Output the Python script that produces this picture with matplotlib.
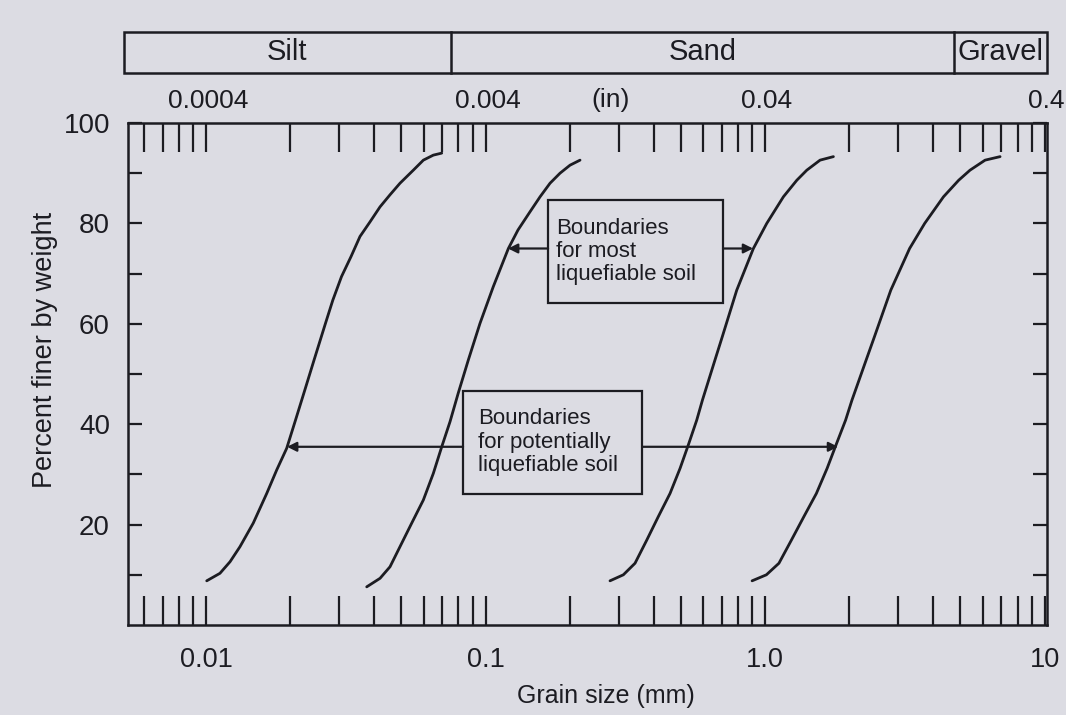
import numpy as np
import matplotlib
matplotlib.use("Agg")
import matplotlib.pyplot as plt
from matplotlib.patches import Rectangle
from matplotlib.transforms import blended_transform_factory
from matplotlib.ticker import FixedLocator, LogLocator, NullFormatter, NullLocator

plt.rcParams['font.family'] = ['Liberation Sans', 'DejaVu Sans']

# Grain size distribution boundaries (grain size in mm, percent finer by weight)
size_1 = [0.01006, 0.01122, 0.01219, 0.01323, 0.01476, 0.01649, 0.01791, 0.01944, 0.02090,
          0.02257, 0.02436, 0.02676, 0.02842, 0.03053, 0.03303, 0.03556, 0.03861, 0.04194,
          0.04553, 0.04943, 0.05516, 0.05992, 0.06505, 0.06971]
pct_1 = [8.8, 10.3, 12.6, 15.6, 20.3, 26.2, 30.9, 35.2, 40.8, 46.8, 52.8, 60.1, 64.7, 69.4,
         73.4, 77.4, 80.3, 83.3, 85.7, 88.0, 90.6, 92.6, 93.6, 94.0]

size_2 = [0.03758, 0.04194, 0.04553, 0.04943, 0.05445, 0.05992, 0.06505, 0.06971, 0.07464,
          0.07988, 0.08680, 0.09556, 0.1066, 0.1207, 0.1307, 0.1442, 0.1567, 0.1701, 0.1847,
          0.2006, 0.2178]
pct_2 = [7.6, 9.3, 11.6, 15.6, 20.3, 24.9, 30.2, 35.5, 40.5, 46.2, 52.8, 60.1, 67.4, 75.0,
         78.7, 82.3, 85.3, 88.0, 90.0, 91.6, 92.6]

size_3 = [0.2788, 0.3112, 0.3426, 0.3773, 0.4151, 0.4571, 0.4965, 0.5317, 0.5695, 0.5970,
          0.6620, 0.7028, 0.7919, 0.9082, 1.014, 1.163, 1.299, 1.410, 1.573, 1.756]
pct_3 = [8.8, 10.0, 12.3, 16.9, 21.6, 26.2, 31.2, 35.9, 40.8, 44.8, 52.8, 57.4, 66.7, 75.0,
         80.0, 85.3, 88.6, 90.6, 92.6, 93.3]

size_4 = [0.8986, 1.011, 1.121, 1.242, 1.377, 1.526, 1.667, 1.795, 1.941, 2.046, 2.300, 2.461,
          2.817, 3.289, 3.724, 4.348, 4.928, 5.409, 6.125, 6.930]
pct_4 = [8.8, 10.0, 12.3, 16.9, 21.6, 26.2, 31.2, 35.9, 40.8, 44.8, 52.8, 57.4, 66.7, 75.0,
         80.0, 85.3, 88.6, 90.6, 92.6, 93.3]

# soil classes on top band (mm)
band_names = ['Silt', 'Sand', 'Gravel']
band_edges = [0.0051, 0.075, 4.75, 10.2]

mm_ticks = [0.01, 0.1, 1.0, 10]
mm_labels = ['0.01', '0.1', '1.0', '10']
inch_ticks = [0.0004, 0.004, 0.04, 0.4]
inch_labels = ['0.0004', '0.004', '0.04', '0.4']
pct_ticks = [20, 40, 60, 80, 100]
pct_minor = [10, 30, 50, 70, 90]

most_text = 'Boundaries\nfor most\nliquefiable soil'
pot_text = 'Boundaries\nfor potentially\nliquefiable soil'

INK = '#1c1c22'
BG = '#dcdce3'

fig = plt.figure(figsize=(10.66, 7.15), dpi=100, facecolor=BG)
ax = fig.add_axes([128 / 1066, 90 / 715, 919 / 1066, 502 / 715], facecolor=BG)

for s, p in [(size_1, pct_1), (size_2, pct_2), (size_3, pct_3), (size_4, pct_4)]:
    ax.plot(s, p, color=INK, lw=2.0, solid_capstyle='round', solid_joinstyle='round')

ax.set_xscale('log')
ax.set_xlim(0.00526, 10.2)
ax.set_ylim(0, 100)

ax.xaxis.set_major_locator(FixedLocator(mm_ticks))
ax.set_xticklabels(mm_labels)
ax.xaxis.set_minor_locator(LogLocator(base=10, subs=np.arange(2, 10)))
ax.xaxis.set_minor_formatter(NullFormatter())
ax.tick_params(axis='x', which='both', direction='in', length=21, width=1.6,
               top=True, bottom=True, pad=16, labelsize=19.5, colors=INK)

ax.set_yticks(pct_ticks)
ax.set_yticks(pct_minor, minor=True)
ax.tick_params(axis='y', which='both', direction='in', length=10, width=1.6,
               left=True, right=True, pad=13, labelsize=20, colors=INK)

for sp in ax.spines.values():
    sp.set_linewidth(1.8)
    sp.set_color(INK)

# top axis in inches
sec = ax.secondary_xaxis('top', functions=(lambda x: x / 25.4, lambda x: x * 25.4))
sec.set_xticks(inch_ticks, labels=inch_labels)
sec.xaxis.set_minor_locator(NullLocator())
sec.tick_params(length=0, pad=7, labelsize=19, colors=INK)
sec.spines['top'].set_visible(False)

trans = blended_transform_factory(ax.transData, ax.transAxes)
ax.text(0.28, 1.046, '(in)', transform=trans, ha='center', va='center', fontsize=19, color=INK)

# soil class band
y0, y1 = 1.0996, 1.1813
ax.add_patch(Rectangle((band_edges[0], y0), band_edges[-1] - band_edges[0], y1 - y0,
                       transform=trans, fill=False, lw=1.8, edgecolor=INK, clip_on=False))
for e in band_edges[1:-1]:
    ax.plot([e, e], [y0, y1], transform=trans, color=INK, lw=1.8, clip_on=False)
for name, a, b in zip(band_names, band_edges[:-1], band_edges[1:]):
    ax.text(np.sqrt(a * b), (y0 + y1) / 2, name, transform=trans, ha='center', va='center',
            fontsize=21, color=INK)

ax.set_xlabel('Grain size (mm)', fontsize=18, color=INK)
ax.xaxis.set_label_coords(0.52, -0.118)
ax.set_ylabel('Percent finer by weight', fontsize=19.5, color=INK)
ax.yaxis.set_label_coords(-0.076, 0.548)

# annotation boxes with arrows
def note(box, text, text_xy, arrow_y, tips):
    x0, x1, yb, yt = box
    ax.add_patch(Rectangle((x0, yb), x1 - x0, yt - yb, fill=True, facecolor=BG,
                           edgecolor=INK, lw=1.6, zorder=3))
    ax.text(text_xy[0], text_xy[1], text, ha='left', va='center', fontsize=16,
            color=INK, linespacing=1.15, zorder=4)
    for tip, start in [(tips[0], x0), (tips[1], x1)]:
        ax.annotate('', xy=(tip, arrow_y), xytext=(start, arrow_y),
                    arrowprops=dict(arrowstyle='-|>', color=INK, lw=1.6,
                                    mutation_scale=14, shrinkA=0, shrinkB=0))

note((0.1674, 0.7074, 64.1, 84.7), most_text, (0.1790, 74.4), 75.0, (0.1204, 0.906))
note((0.0831, 0.3631, 26.1, 46.6), pot_text, (0.0940, 36.4), 35.5, (0.0195, 1.825))

fig.savefig('out.png', dpi=100, facecolor=BG)
